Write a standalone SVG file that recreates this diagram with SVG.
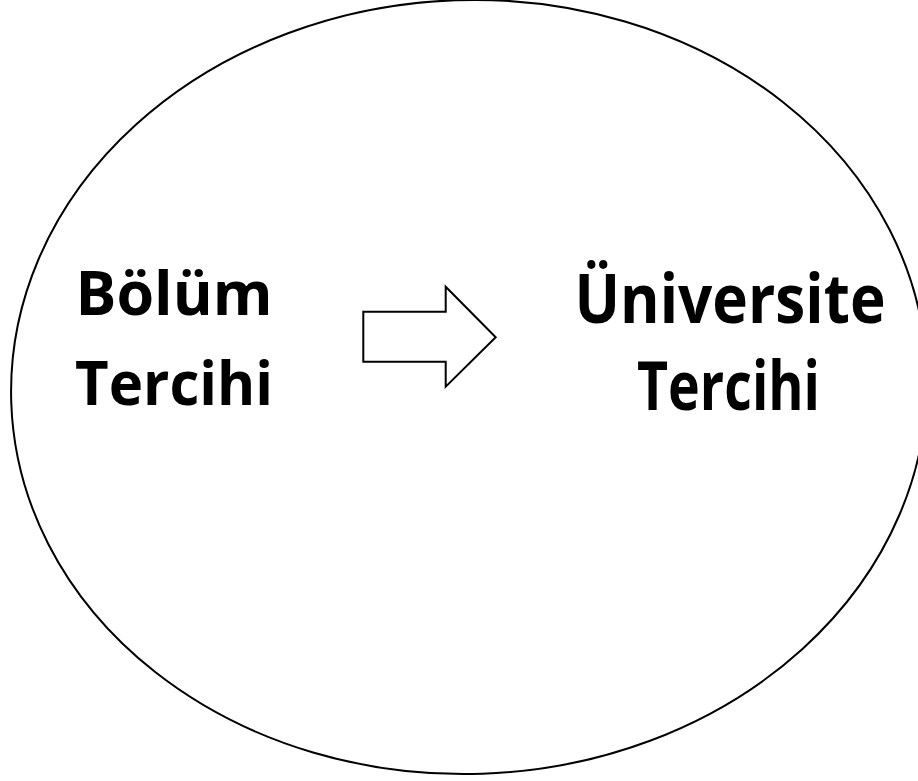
<svg xmlns="http://www.w3.org/2000/svg" width="918" height="781" viewBox="0 0 918 781">
<style>
.t{font-family:"Open Sans","Liberation Sans",sans-serif;font-weight:bold;fill:#000;text-anchor:middle}
.s{fill:#fff;stroke:#000;stroke-width:2}
</style>
<rect width="918" height="781" fill="#fff"/>
<g id="ellipse">
<ellipse class="s" cx="469" cy="387" rx="458" ry="387" transform="rotate(-2 469 387)"/>
</g>
<g id="bolum">
<text class="t" x="174" y="315" font-size="60" textLength="197" lengthAdjust="spacingAndGlyphs">Bölüm</text>
<text class="t" x="174" y="405" font-size="60" textLength="198" lengthAdjust="spacingAndGlyphs">Tercihi</text>
</g>
<g id="universite">
<text class="t" x="730" y="323" font-size="68" textLength="311" lengthAdjust="spacingAndGlyphs">Üniversite</text>
<text class="t" x="728.5" y="410" font-size="68" textLength="183" lengthAdjust="spacingAndGlyphs">Tercihi</text>
</g>
<g id="connectors">
<polygon class="s" points="363.3,311.7 445.7,311.7 445.7,286.7 495.7,337.3 445.7,386.7 445.7,361.7 363.3,361.7"/>
</g>
</svg>
